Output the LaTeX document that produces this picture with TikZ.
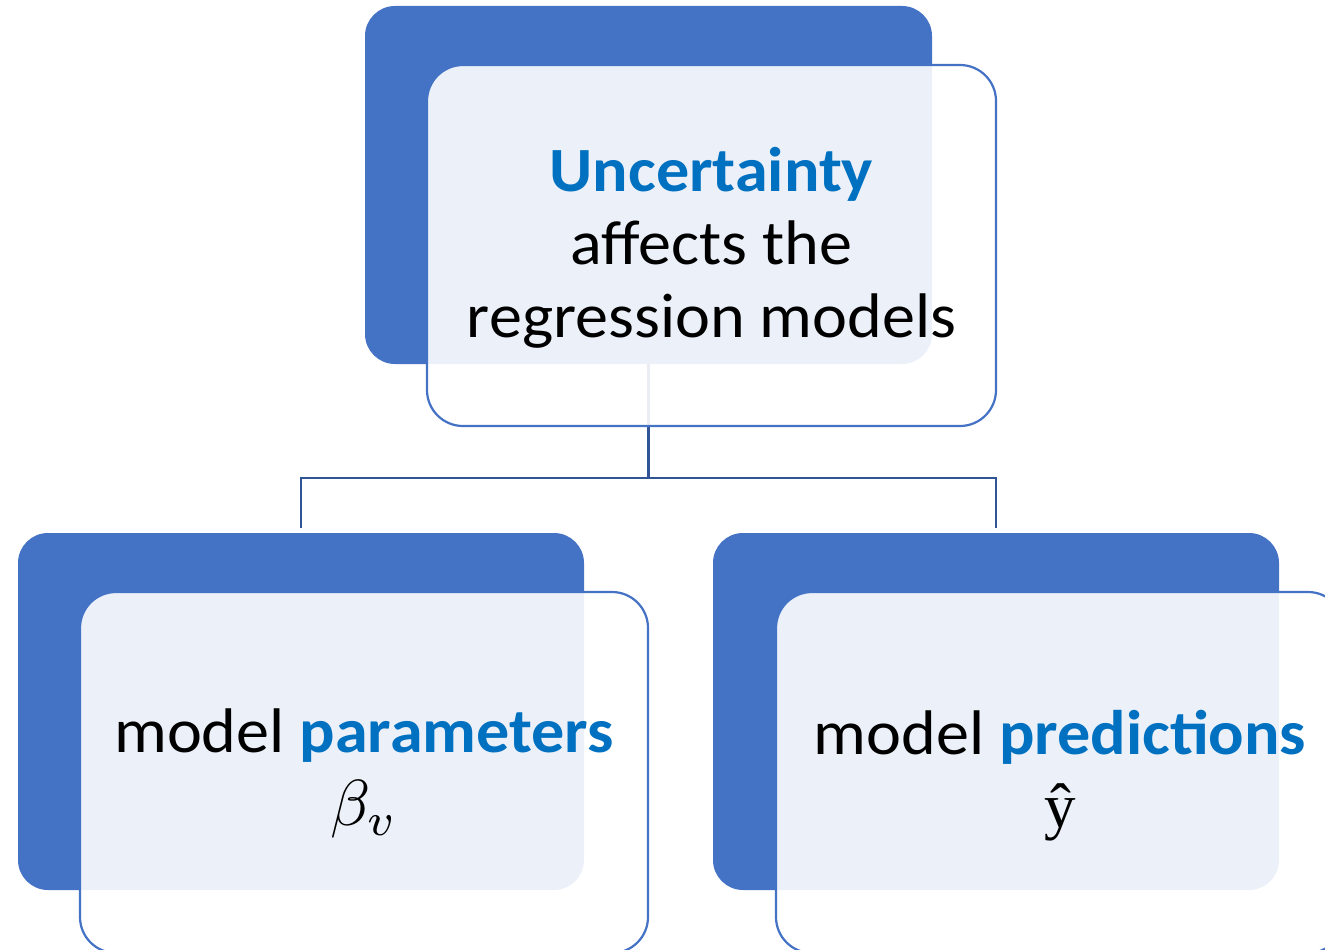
\documentclass[tikz,border=0pt]{standalone}
\usepackage{graphicx}
\usepackage{fontspec}
\setmainfont{Carlito}[FakeStretch=1.05]
\newfontfamily\seriffont{Liberation Serif}
\definecolor{darkbox}{HTML}{4472C4}
\definecolor{hilite}{HTML}{0070C0}
\definecolor{connblue}{HTML}{2F5597}
\tikzset{
  backbox/.style={draw=none, fill=darkbox, rounded corners=30pt, inner sep=0pt},
  frontbox/.style={draw=darkbox, line width=2.2pt, fill=white, fill opacity=0.9, rounded corners=36pt, inner sep=0pt},
  conn/.style={draw=connblue, line width=2.8pt},
  label/.style={align=center, text=black, font=\fontsize{63}{73}\selectfont, inner sep=0pt}
}
\begin{document}
\begin{tikzpicture}[x=1pt,y=-1pt]
\useasboundingbox (0,0) rectangle (1325,950);
% back boxes
\node[backbox, minimum width=567pt, minimum height=358pt] (topd) at (648.5,185) {};
\node[backbox, minimum width=566pt, minimum height=357pt] (bld) at (301,711.5) {};
\node[backbox, minimum width=566pt, minimum height=357pt] (brd) at (996,711.5) {};
% connectors
\coordinate (j) at (648.5,478);
\draw[conn] (topd.south) -- (j);
\draw[conn, shorten <=5pt, shorten >=5pt] (bld.north) |- (j) -| (brd.north);
% front boxes
\node[frontbox, minimum width=569pt, minimum height=361pt] (topl) at (711.5,245.5) {};
\node[frontbox, minimum width=568pt, minimum height=361pt] (bll) at (364,772.5) {};
\node[frontbox, minimum width=568pt, minimum height=361pt] (brl) at (1060,772.5) {};
% texts
\node[label] (toptext) at ([yshift=-2pt]topl.center) {\textcolor{hilite}{\bfseries Uncertainty}\\affects the\\regression models};
\node[label] (bltext) at ([yshift=-1pt]bll.center) {model \textcolor{hilite}{\bfseries parameters}\\\scalebox{6.5}{\normalsize$\beta_v$}};
\node[label] (brtext) at ([yshift=-3pt]brl.center) {model \textcolor{hilite}{\bfseries predictions}\\{\seriffont ŷ}};
\end{tikzpicture}
\end{document}
